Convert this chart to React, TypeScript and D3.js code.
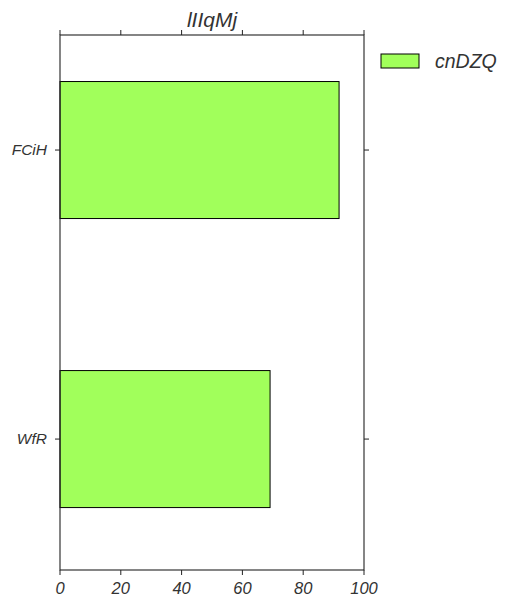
import * as d3 from 'd3';

const categories = ['WfR', 'FCiH'];
const values = [69.1, 91.8];
const xTicks = [0, 20, 40, 60, 80, 100];
const seriesName = 'cnDZQ';
const title = 'lIIqMj';

const W = 532;
const H = 608;
const margin = { top: 35, right: 168, bottom: 38, left: 60 };
const barColor = '#a1ff5b';
const textColor = '#333';
const font = '"Liberation Sans", Arial, Helvetica, sans-serif';

export default function App() {
  const x = d3.scaleLinear().domain([0, 100]).range([margin.left, W - margin.right]);
  const y = d3.scaleLinear().domain([-0.453, 1.398]).range([H - margin.bottom, margin.top]);
  const barH = 0.474;
  const x0 = margin.left;
  const x1 = W - margin.right;
  const y0 = H - margin.bottom;
  const y1 = margin.top;

  return (
    <svg width={W} height={H} style={{ position: 'absolute', left: 0, top: 0, fontFamily: font }}>
      <rect width={W} height={H} fill="#fff" />
      {categories.map((c, i) => (
        <rect
          key={c}
          x={x(0)}
          y={y(i + barH / 2)}
          width={x(values[i]) - x(0)}
          height={y(i - barH / 2) - y(i + barH / 2)}
          fill={barColor}
          stroke="#000"
          strokeWidth={1}
        />
      ))}
      <rect x={x0} y={y1} width={x1 - x0} height={y0 - y1} fill="none" stroke="#222" strokeWidth={1.1} />
      {xTicks.map((t) => (
        <g key={t}>
          <line x1={x(t)} x2={x(t)} y1={y0} y2={y0 + 5} stroke="#222" />
          <line x1={x(t)} x2={x(t)} y1={y1} y2={y1 - 5} stroke="#222" />
          <text
            x={x(t)}
            y={y0 + 24}
            textAnchor="middle"
            fontSize={16.5}
            fontStyle="italic"
            fill={textColor}
          >
            {t}
          </text>
        </g>
      ))}
      {categories.map((c, i) => (
        <g key={c}>
          <line x1={x0 - 5} x2={x0} y1={y(i)} y2={y(i)} stroke="#222" />
          <line x1={x1} x2={x1 + 5} y1={y(i)} y2={y(i)} stroke="#222" />
          <text
            x={x0 - 13}
            y={y(i) + 5}
            textAnchor="end"
            fontSize={15.5}
            fontStyle="italic"
            fill={textColor}
          >
            {c}
          </text>
        </g>
      ))}
      <text
        x={(x0 + x1) / 2}
        y={27}
        textAnchor="middle"
        fontSize={21}
        fontStyle="italic"
        fill={textColor}
      >
        {title}
      </text>
      <rect x={381} y={54} width={38} height={14} fill={barColor} stroke="#000" strokeWidth={1} />
      <text x={435} y={68} fontSize={19.5} fontStyle="italic" fill={textColor}>
        {seriesName}
      </text>
    </svg>
  );
}
